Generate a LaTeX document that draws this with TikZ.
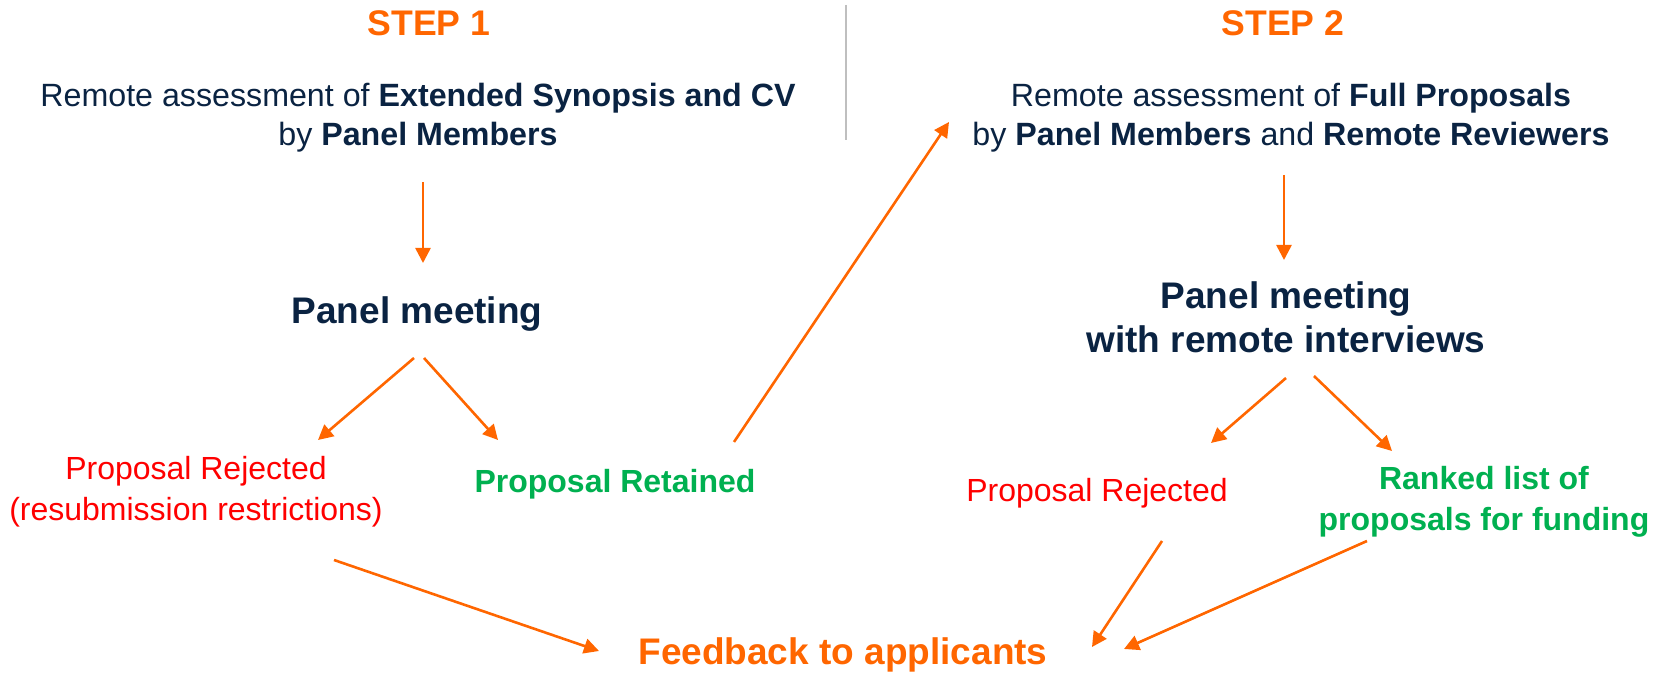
\documentclass[tikz,border=0pt]{standalone}
\usepackage{fontspec}
\setmainfont{Liberation Sans}
\usetikzlibrary{calc,arrows.meta}

\definecolor{cff6600}{RGB}{255,102,0}
\definecolor{c0a2342}{RGB}{10,35,66}
\definecolor{cff0000}{RGB}{255,0,0}
\definecolor{c00b050}{RGB}{0,176,80}
\definecolor{cbfbfbf}{RGB}{191,191,191}

\begin{document}
\begin{tikzpicture}[y=0.50pt, x=0.50pt, yscale=-1.000000, xscale=1.000000, inner sep=0pt, outer sep=0pt,
  steptitle/.style={text=cff6600,font=\fontsize{17.8}{21}\selectfont\bfseries},
  remote/.style={text=c0a2342,align=center,font=\fontsize{16.1}{19.5}\selectfont},
  meeting/.style={text=c0a2342,align=center,font=\fontsize{18.5}{22}\selectfont\bfseries},
  rejected/.style={text=cff0000,align=center,font=\fontsize{16}{20.5}\selectfont},
  retained/.style={text=c00b050,align=center,font=\fontsize{16}{20.5}\selectfont\bfseries},
  flow/.style={draw=cff6600,line width=1.3pt,-{Triangle[length=7.5pt,width=7.5pt]}}]
\useasboundingbox (0,0) rectangle (1662,673);

\begin{scope}% step 1
  % title
  \node[steptitle] (step1) at (429,23) {STEP 1};
  % remote assessment
  \node[remote] (ra1) at (418,118) {Remote assessment of \textbf{Extended Synopsis and CV}\\by \textbf{Panel Members}};
  % meeting
  \node[meeting] (pm1) at (417,314) {Panel meeting};
  % outcomes
  \node[rejected] (rej1) at (196,492) {Proposal Rejected\\(resubmission restrictions)};
  \node[retained] (ret1) at (615,484) {Proposal Retained};
\end{scope}

% divider
\path[draw=cbfbfbf,line width=0.6pt] (846,5) -- (846,140);

\begin{scope}% step 2
  % title
  \node[steptitle] (step2) at (1283,23) {STEP 2};
  % remote assessment
  \node[remote] (ra2) at (1291,118) {Remote assessment of \textbf{Full Proposals}\\by \textbf{Panel Members} and \textbf{Remote Reviewers}};
  % meeting
  \node[meeting] (pm2) at (1286,317) {Panel meeting\\with remote interviews};
  % outcomes
  \node[rejected] (rej2) at (1097,493) {Proposal Rejected};
  \node[retained] (rank) at (1484,502) {Ranked list of\\proposals for funding};
\end{scope}

% feedback
\node[steptitle,font=\fontsize{18.5}{22}\selectfont\bfseries] (fb) at (843,655) {Feedback to applicants};

\begin{scope}% arrows
  \draw[flow] ($(ra1)+(5,64)$) -- ($(pm1)+(6,-51)$);
  \draw[flow] ($(pm1)+(-3,44)$) -- ($(rej1)+(122,-52)$);
  \draw[flow] ($(pm1)+(7,44)$) -- ($(ret1)+(-117,-44)$);
  \draw[flow] ($(ret1)+(119,-42)$) -- ($(ra2)+(-342,4)$);
  \draw[flow] ($(ra2)+(-7,57)$) -- ($(pm2)+(-2,-57)$);
  \draw[flow] ($(pm2)+(0,61)$) -- ($(rej2)+(114,-50)$);
  \draw[flow] ($(pm2)+(28,59)$) -- ($(rank)+(-92,-51)$);
  \draw[flow] ($(rej1)+(138,68)$) -- ($(fb)+(-244,-4)$);
  \draw[flow] ($(rej2)+(65,48)$) -- ($(fb)+(249,-8)$);
  \draw[flow] ($(rank)+(-117,39)$) -- ($(fb)+(281,-6)$);
\end{scope}

\end{tikzpicture}
\end{document}
